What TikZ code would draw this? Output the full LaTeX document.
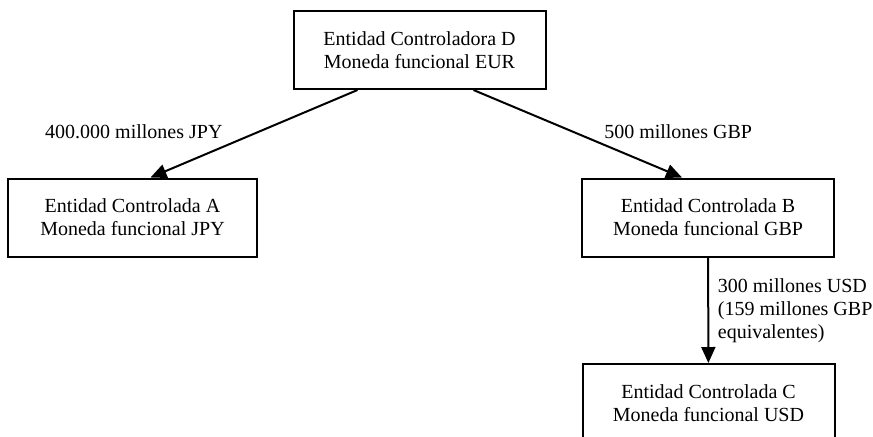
\documentclass[tikz,border=0pt]{standalone}
\usepackage{fontspec}
\setmainfont{Liberation Serif}
\usetikzlibrary{arrows.meta}
\tikzset{
	entidad/.style={draw,line width=1pt,minimum width=126pt,minimum height=39pt,align=center},
	flujo/.style={line width=1pt,-{Triangle[width=7pt,length=8pt]}}
}
\begin{document}
\begin{tikzpicture}[x=0.5pt,y=-0.5pt,font={\fontsize{10}{11.5}\selectfont}]
		\clip(0,0)rectangle(873,436);
		\node[entidad](D)at(419.5,50){Entidad Controladora D\\Moneda funcional EUR};
		\node[entidad,minimum width=124.5pt](A)at(132.5,217.5){Entidad Controlada A\\Moneda funcional JPY};
		\node[entidad](B)at(708,217.5){Entidad Controlada B\\Moneda funcional GBP};
		\node[entidad](C)at(708.5,403){Entidad Controlada C\\Moneda funcional USD};
		\draw[flujo]([xshift=-31pt]D.south)--([xshift=9pt]A.north)
			node[pos=0.48,left=14pt]{400.000 millones JPY};
		\draw[flujo]([xshift=27pt]D.south)--([xshift=-13pt]B.north)
			node[pos=0.48,right=11.5pt]{500 millones GBP};
		\draw[flujo](B)--(C)
			node[midway,right=1pt,align=left]{300 millones USD\\(159 millones GBP\\equivalentes)};
	\end{tikzpicture}
\end{document}
